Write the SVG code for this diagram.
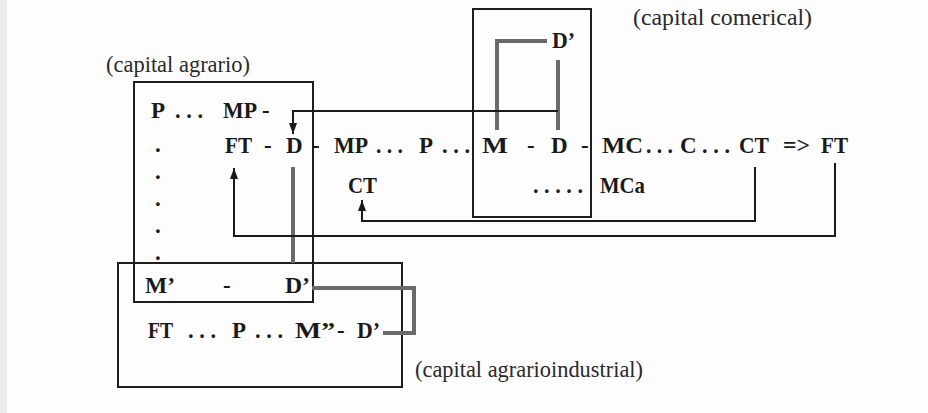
<svg xmlns="http://www.w3.org/2000/svg" width="928" height="413" viewBox="0 0 928 413">
  <defs>
    <marker id="arr" markerUnits="userSpaceOnUse" markerWidth="12" markerHeight="10" refX="11" refY="4" orient="auto">
      <path d="M0,0 L11,4 L0,8 Z" fill="#1a1a1a"/>
    </marker>
    <style>
      .box { fill: none; stroke: #1e1e1e; stroke-width: 2; }
      .t { font-family: "Liberation Serif", "Times New Roman", serif; font-weight: bold; font-size: 23px; fill: #1a1a1a; }
      .lbl { font-family: "Liberation Serif", "Times New Roman", serif; font-size: 23px; fill: #2a2a2a; }
      .blk { fill: none; stroke: #1a1a1a; stroke-width: 2; }
      .gry { fill: none; stroke: #6a6a6a; stroke-width: 4; }
    </style>
  </defs>
  <rect x="0" y="0" width="928" height="413" fill="#fdfdfd"/>
  <rect x="0" y="0" width="7" height="413" fill="#ebebf0"/>

  <g id="capital-agrario">
    <rect class="box" x="134" y="82" width="179" height="220"/>
    <text class="lbl" x="106" y="72" textLength="144" lengthAdjust="spacingAndGlyphs">(capital agrario)</text>
    <text class="t" x="151" y="118">P</text>
    <text class="t" x="175" y="118" textLength="28" lengthAdjust="spacingAndGlyphs">. . .</text>
    <text class="t" x="223" y="118" textLength="34" lengthAdjust="spacingAndGlyphs">MP</text>
    <text class="t" x="262" y="118">-</text>
    <text class="t" x="155" y="152">.</text>
    <text class="t" x="225" y="153" textLength="27" lengthAdjust="spacingAndGlyphs">FT</text>
    <text class="t" x="264" y="153">-</text>
    <text class="t" x="286" y="153">D</text>
    <text class="t" x="155" y="179">.</text>
    <text class="t" x="155" y="206">.</text>
    <text class="t" x="155" y="233">.</text>
    <text class="t" x="155" y="260">.</text>
    <text class="t" x="145" y="293" textLength="30" lengthAdjust="spacingAndGlyphs">M’</text>
    <text class="t" x="223" y="293">-</text>
    <text class="t" x="285" y="293" textLength="25" lengthAdjust="spacingAndGlyphs">D’</text>
  </g>

  <g id="circuito">
    <text class="t" x="312" y="153">-</text>
    <text class="t" x="334" y="153" textLength="34" lengthAdjust="spacingAndGlyphs">MP</text>
    <text class="t" x="376" y="153" textLength="27" lengthAdjust="spacingAndGlyphs">. . .</text>
    <text class="t" x="419" y="153">P</text>
    <text class="t" x="442" y="153" textLength="28" lengthAdjust="spacingAndGlyphs">. . .</text>
    <text class="t" x="348" y="193" textLength="29" lengthAdjust="spacingAndGlyphs">CT</text>
  </g>

  <g id="capital-comercial">
    <rect class="box" x="473" y="9" width="118" height="208"/>
    <text class="lbl" x="633" y="25" textLength="179" lengthAdjust="spacingAndGlyphs">(capital comerical)</text>
    <text class="t" x="552" y="48" textLength="23" lengthAdjust="spacingAndGlyphs">D’</text>
    <text class="t" x="482" y="153" textLength="26" lengthAdjust="spacingAndGlyphs">M</text>
    <text class="t" x="527" y="153">-</text>
    <text class="t" x="551" y="153">D</text>
    <text class="t" x="581" y="153">-</text>
    <text class="t" x="533" y="193" textLength="50" lengthAdjust="spacingAndGlyphs">. . . . .</text>
  </g>

  <g id="consumo">
    <text class="t" x="602" y="153" textLength="41" lengthAdjust="spacingAndGlyphs">MC</text>
    <text class="t" x="646" y="153" textLength="27" lengthAdjust="spacingAndGlyphs">. . .</text>
    <text class="t" x="680" y="153">C</text>
    <text class="t" x="702" y="153" textLength="28" lengthAdjust="spacingAndGlyphs">. . .</text>
    <text class="t" x="739" y="153" textLength="30" lengthAdjust="spacingAndGlyphs">CT</text>
    <text class="t" x="783" y="153" textLength="27" lengthAdjust="spacingAndGlyphs">=&gt;</text>
    <text class="t" x="821" y="153" textLength="27" lengthAdjust="spacingAndGlyphs">FT</text>
    <text class="t" x="600" y="193" textLength="45" lengthAdjust="spacingAndGlyphs">MCa</text>
  </g>

  <g id="capital-agrarioindustrial">
    <rect class="box" x="118" y="263" width="284" height="124"/>
    <text class="lbl" x="415" y="377" textLength="228" lengthAdjust="spacingAndGlyphs">(capital agrarioindustrial)</text>
    <text class="t" x="148" y="338" textLength="25" lengthAdjust="spacingAndGlyphs">FT</text>
    <text class="t" x="188" y="338" textLength="28" lengthAdjust="spacingAndGlyphs">. . .</text>
    <text class="t" x="232" y="338">P</text>
    <text class="t" x="255" y="338" textLength="28" lengthAdjust="spacingAndGlyphs">. . .</text>
    <text class="t" x="295" y="338" textLength="40" lengthAdjust="spacingAndGlyphs">M”</text>
    <text class="t" x="337" y="338">-</text>
    <text class="t" x="357" y="338" textLength="23" lengthAdjust="spacingAndGlyphs">D’</text>
  </g>

  <g id="connectors">
    <path class="gry" d="M497,130 V41 H547"/>
    <path class="gry" d="M558,60 V130"/>
    <path class="blk" d="M558,111 H293 V134" marker-end="url(#arr)"/>
    <path class="gry" d="M293,167 V263"/>
    <path class="gry" d="M312,288 H414 V333 H383"/>
    <path class="blk" d="M755,167 V221 H362 V200" marker-end="url(#arr)"/>
    <path class="blk" d="M835,163 V236 H234 V168" marker-end="url(#arr)"/>
  </g>
</svg>
